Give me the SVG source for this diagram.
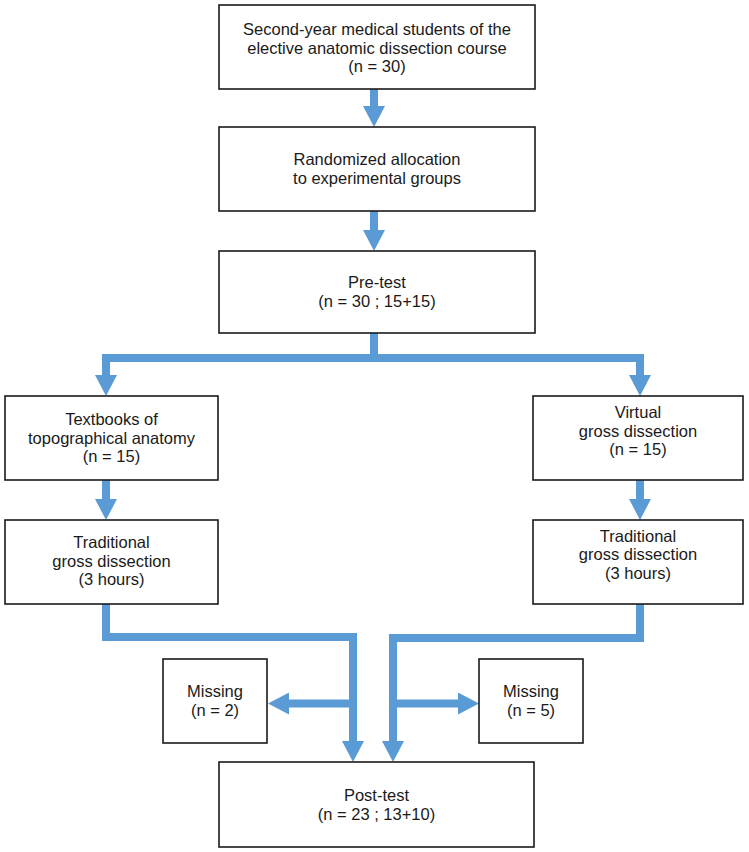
<svg xmlns="http://www.w3.org/2000/svg" width="749" height="852" viewBox="0 0 749 852">
<style>
.box{fill:#fff;stroke:#1a1a1a;stroke-width:1.6}
.t{font-family:"Liberation Sans",Arial,sans-serif;font-size:16.5px;fill:#1a1a1a;text-anchor:middle}
.c{fill:none;stroke:#5b9bd5;stroke-width:8;stroke-linejoin:miter;stroke-linecap:butt}
</style>
<defs>
<marker id="ah" markerUnits="userSpaceOnUse" viewBox="0 0 21 22" markerWidth="21" markerHeight="22" refX="0" refY="11" orient="auto">
<path d="M0,0 L21,11 L0,22 z" fill="#5b9bd5"/>
</marker>
</defs>
<rect width="749" height="852" fill="#fff"/>
<g id="connectors">
<path class="c" d="M374,89 V106" marker-end="url(#ah)"/>
<path class="c" d="M374,211 V230" marker-end="url(#ah)"/>
<path class="c" d="M374,332 V358"/>
<path class="c" d="M106,358 H640"/>
<path class="c" d="M106,354 V375" marker-end="url(#ah)"/>
<path class="c" d="M640,354 V375" marker-end="url(#ah)"/>
<path class="c" d="M106,480 V499" marker-end="url(#ah)"/>
<path class="c" d="M640,480 V499" marker-end="url(#ah)"/>
<path class="c" d="M106,604 V637 H353 V741" marker-end="url(#ah)"/>
<path class="c" d="M353,703.5 H289" marker-end="url(#ah)"/>
<path class="c" d="M640,604 V638 H393 V741" marker-end="url(#ah)"/>
<path class="c" d="M393,703.5 H458" marker-end="url(#ah)"/>
</g>
<g id="students">
<rect class="box" x="219" y="5" width="316" height="84"/>
<text class="t" x="377" y="35">Second-year medical students of the</text>
<text class="t" x="377" y="53.5">elective anatomic dissection course</text>
<text class="t" x="377" y="72">(n = 30)</text>
</g>
<g id="randomized">
<rect class="box" x="219" y="127" width="316" height="84"/>
<text class="t" x="377" y="165">Randomized allocation</text>
<text class="t" x="377" y="183.5">to experimental groups</text>
</g>
<g id="pretest">
<rect class="box" x="219" y="251" width="316" height="82"/>
<text class="t" x="377" y="288">Pre-test</text>
<text class="t" x="377" y="306.5">(n = 30 ; 15+15)</text>
</g>
<g id="textbooks">
<rect class="box" x="5" y="396" width="213" height="84"/>
<text class="t" x="111.5" y="425">Textbooks of</text>
<text class="t" x="111.5" y="443.5">topographical anatomy</text>
<text class="t" x="111.5" y="462">(n = 15)</text>
</g>
<g id="virtual">
<rect class="box" x="533" y="396" width="210" height="84"/>
<text class="t" x="638" y="418">Virtual</text>
<text class="t" x="638" y="436.5">gross dissection</text>
<text class="t" x="638" y="455">(n = 15)</text>
</g>
<g id="traditionalLeft">
<rect class="box" x="5" y="520" width="213" height="84"/>
<text class="t" x="111.5" y="548">Traditional</text>
<text class="t" x="111.5" y="566.5">gross dissection</text>
<text class="t" x="111.5" y="585">(3 hours)</text>
</g>
<g id="traditionalRight">
<rect class="box" x="533" y="520" width="210" height="84"/>
<text class="t" x="638" y="541.5">Traditional</text>
<text class="t" x="638" y="560">gross dissection</text>
<text class="t" x="638" y="578.5">(3 hours)</text>
</g>
<g id="missingLeft">
<rect class="box" x="163" y="659" width="104" height="84"/>
<text class="t" x="215" y="697">Missing</text>
<text class="t" x="215" y="715.5">(n = 2)</text>
</g>
<g id="missingRight">
<rect class="box" x="479" y="659" width="104" height="84"/>
<text class="t" x="531" y="697">Missing</text>
<text class="t" x="531" y="715.5">(n = 5)</text>
</g>
<g id="posttest">
<rect class="box" x="219" y="762" width="315" height="85"/>
<text class="t" x="376.5" y="801">Post-test</text>
<text class="t" x="376.5" y="819.5">(n = 23 ; 13+10)</text>
</g>
</svg>
